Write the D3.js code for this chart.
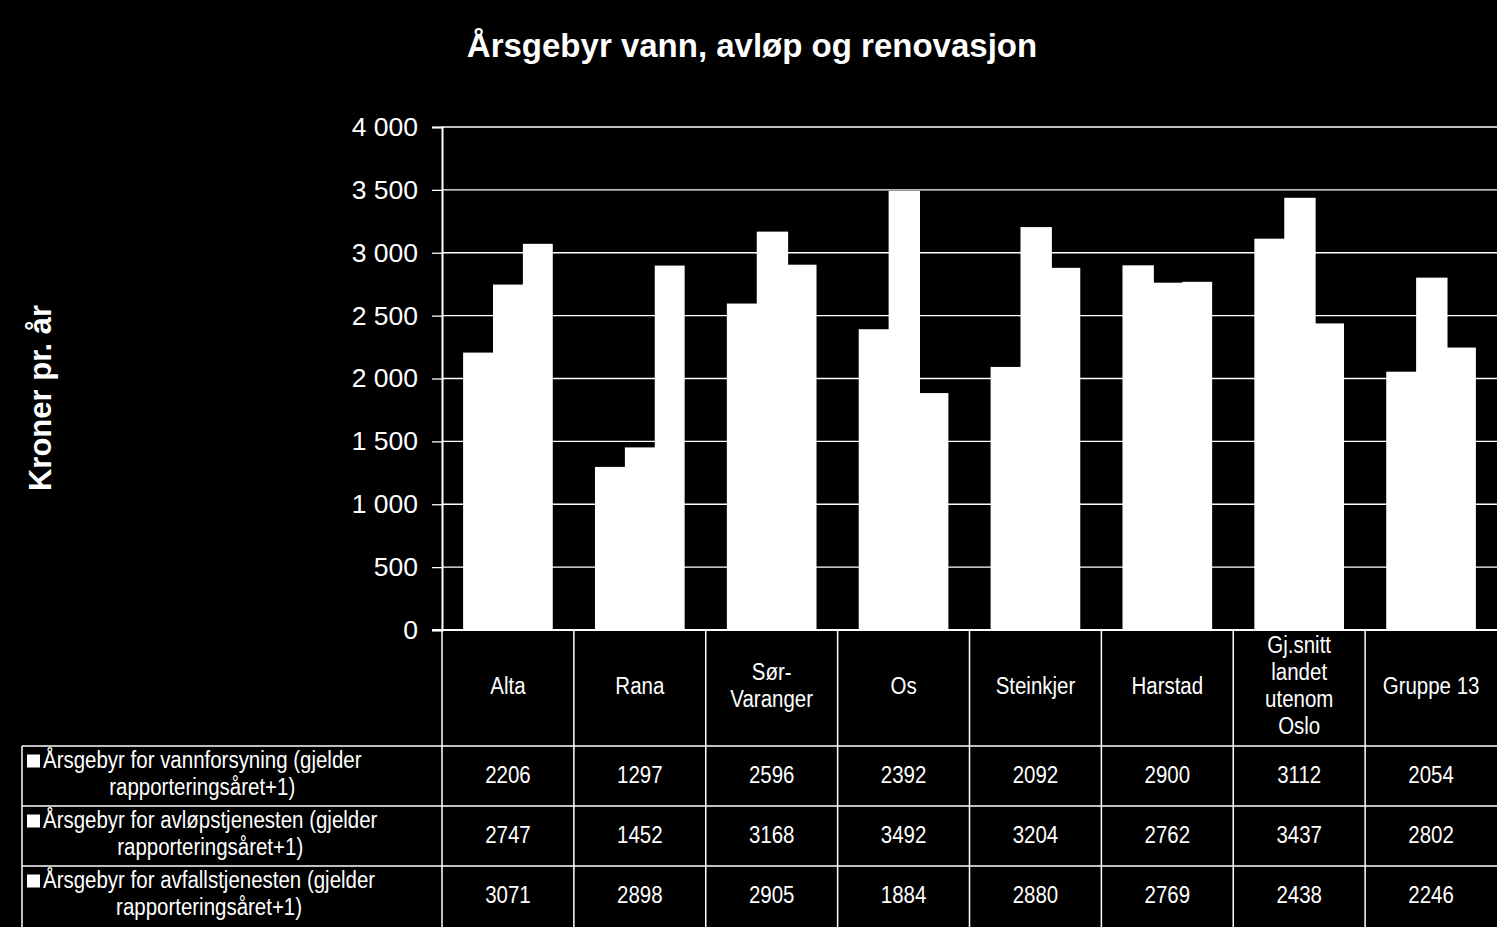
<!DOCTYPE html>
<html><head><meta charset="utf-8">
<script src="https://cdn.jsdelivr.net/npm/d3@7"></script>
<style>html,body{margin:0;padding:0;background:#000;}svg{display:block;font-family:"Liberation Sans",Arial,sans-serif;}</style>
</head><body>
<script>
const categories = [["Alta"],["Rana"],["Sør-","Varanger"],["Os"],["Steinkjer"],["Harstad"],["Gj.snitt","landet","utenom","Oslo"],["Gruppe 13"]];
const seriesNames = [
  ["Årsgebyr for vannforsyning (gjelder","rapporteringsåret+1)"],
  ["Årsgebyr for avløpstjenesten (gjelder","rapporteringsåret+1)"],
  ["Årsgebyr for avfallstjenesten (gjelder","rapporteringsåret+1)"]
];
const vann   = [2206,1297,2596,2392,2092,2900,3112,2054];
const avlop  = [2747,1452,3168,3492,3204,2762,3437,2802];
const avfall = [3071,2898,2905,1884,2880,2769,2438,2246];
const series = [vann, avlop, avfall];
const yTicks = [0,500,1000,1500,2000,2500,3000,3500,4000];
const title = "Årsgebyr vann, avløp og renovasjon";
const yTitle = "Kroner pr. år";

const W=1497,H=927;
const L=442,R=1497,T=127,B=630;
const rowTop=746,rowH=60,tableLeft=22;
const SX=0.89;

const svg=d3.select("body").append("svg").attr("width",W).attr("height",H);
svg.append("rect").attr("width",W).attr("height",H).attr("fill","#000");

const keys = categories.map((c,i)=>i);
const x0=d3.scaleBand().domain(keys).range([L,R]).padding(0);
const step=x0.bandwidth();
const gap=step*0.16;
const x1=d3.scaleBand().domain([0,1,2]).range([gap,step-gap]).padding(0);
const y=d3.scaleLinear().domain([0,4000]).range([B,T]);

// gridlines
svg.append("g").selectAll("line").data(yTicks.filter(d=>d>0)).join("line")
  .attr("x1",L).attr("x2",R).attr("y1",d=>y(d)).attr("y2",d=>y(d))
  .attr("stroke","#fff").attr("stroke-width",1.3);

// bars
const groups=svg.append("g").selectAll("g").data(keys).join("g")
  .attr("transform",i=>`translate(${x0(i)},0)`);
groups.selectAll("rect").data(i=>series.map((s,k)=>({k,v:s[i]}))).join("rect")
  .attr("x",d=>x1(d.k)).attr("width",d=>x1.bandwidth()+(d.k<2?1.5:0))
  .attr("y",d=>y(d.v)).attr("height",d=>B-y(d.v)).attr("fill","#fff");

// y axis
const yAxis=d3.axisLeft(y).tickValues(yTicks).tickSize(10).tickPadding(14)
  .tickFormat(d=>d3.format(",")(d).replace(/,/g," "));
const ya=svg.append("g").attr("transform",`translate(${L},0)`).call(yAxis);
ya.select(".domain").attr("stroke","#fff").attr("stroke-width",2);
ya.selectAll(".tick line").attr("stroke","#fff").attr("stroke-width",1.3);
ya.selectAll(".tick text").attr("fill","#fff").attr("font-size",26.5).attr("font-family","Liberation Sans, Arial, sans-serif");

// baseline
svg.append("line").attr("x1",L-10).attr("x2",R).attr("y1",B).attr("y2",B).attr("stroke","#fff").attr("stroke-width",2);

// title
svg.append("text").attr("x",752).attr("y",57).attr("text-anchor","middle")
  .attr("fill","#fff").attr("font-weight","bold").attr("font-size",33).text(title);
svg.append("text").attr("transform","translate(51,398) rotate(-90)").attr("text-anchor","middle")
  .attr("fill","#fff").attr("font-weight","bold").attr("font-size",31).text(yTitle);

// table lines
const tl=svg.append("g").attr("stroke","#fff").attr("stroke-width",1.5);
[0,1,2].forEach(r=>{
  const yy=rowTop+r*rowH;
  tl.append("line").attr("x1",tableLeft).attr("x2",R).attr("y1",yy).attr("y2",yy);
});
tl.append("line").attr("x1",tableLeft).attr("x2",tableLeft).attr("y1",rowTop).attr("y2",H);
keys.forEach(i=>{
  if(i>0) tl.append("line").attr("x1",x0(i)).attr("x2",x0(i)).attr("y1",B).attr("y2",H);
});
tl.append("line").attr("x1",L).attr("x2",L).attr("y1",B).attr("y2",H);

function sText(g,x,yy,str,anchor){
  return g.append("text").attr("transform",`translate(${x},${yy}) scale(${SX},1)`)
    .attr("text-anchor",anchor||"middle").attr("dominant-baseline","central")
    .attr("fill","#fff").attr("font-size",23).text(str);
}
const tg=svg.append("g");
// category labels
const catMid=(B+rowTop)/2-2, lh=27;
categories.forEach((lines,i)=>{
  const cx=x0(i)+step/2;
  lines.forEach((ln,j)=>{
    sText(tg,cx,catMid+(j-(lines.length-1)/2)*lh,ln);
  });
});
// rows
series.forEach((s,k)=>{
  const top=rowTop+k*rowH;
  s.forEach((v,i)=>sText(tg,x0(i)+step/2,top+rowH/2-1,String(v)));
  const l1y=top+14, l2y=top+41;
  tg.append("rect").attr("x",27).attr("y",l1y-5.5).attr("width",13).attr("height",13).attr("fill","#fff");
  const t1=sText(tg,43,l1y,seriesNames[k][0],"start");
  const w1=t1.node().getComputedTextLength()*SX;
  sText(tg,(27+43+w1)/2+8,l2y,seriesNames[k][1]);
});
</script>
</body></html>
